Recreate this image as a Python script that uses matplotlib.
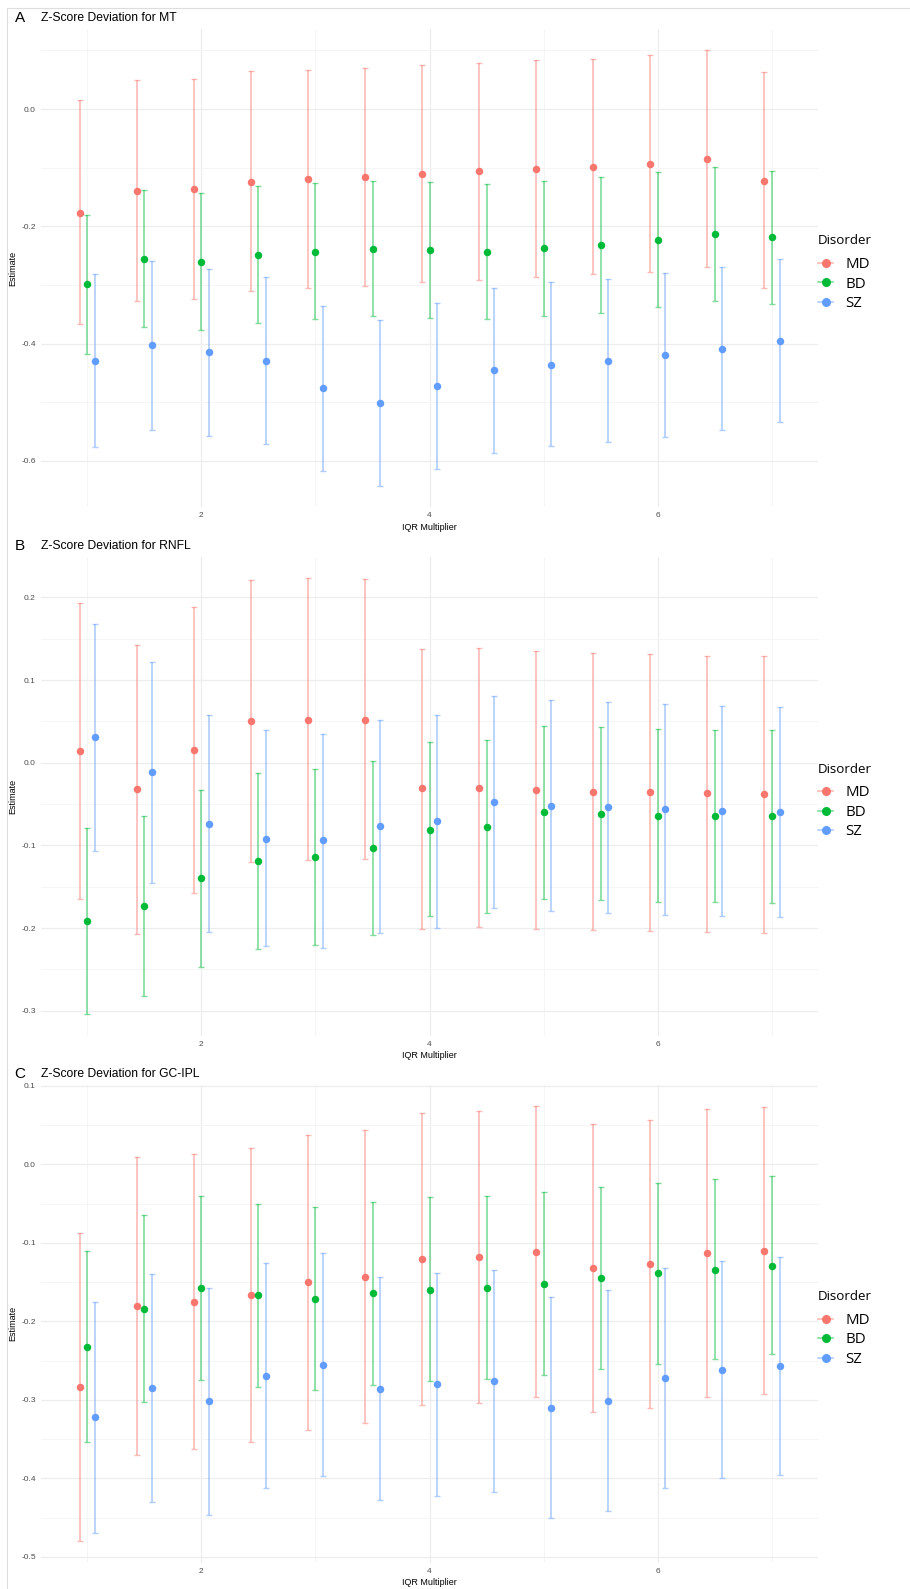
import numpy as np
import matplotlib.pyplot as plt
from matplotlib.lines import Line2D
from matplotlib.ticker import MultipleLocator

plt.rcParams['font.family'] = ['Liberation Sans', 'DejaVu Sans']

# IQR multiplier values on the x axis
iqr = np.array([1.0, 1.5, 2.0, 2.5, 3.0, 3.5, 4.0, 4.5, 5.0, 5.5, 6.0, 6.5, 7.0])
disorders = ['MD', 'BD', 'SZ']

# Panel A: MT (estimate, lower, upper)
mt_md = [-0.177, -0.139, -0.137, -0.124, -0.119, -0.116, -0.110, -0.106, -0.102, -0.099, -0.093, -0.085, -0.122]
mt_md_hi = [0.015, 0.049, 0.051, 0.064, 0.066, 0.070, 0.075, 0.078, 0.083, 0.086, 0.092, 0.100, 0.063]
mt_md_lo = [-0.367, -0.328, -0.324, -0.310, -0.305, -0.301, -0.295, -0.291, -0.286, -0.282, -0.277, -0.269, -0.305]
mt_bd = [-0.298, -0.255, -0.261, -0.248, -0.243, -0.238, -0.240, -0.243, -0.237, -0.231, -0.223, -0.213, -0.219]
mt_bd_hi = [-0.180, -0.138, -0.144, -0.131, -0.126, -0.123, -0.125, -0.127, -0.122, -0.116, -0.108, -0.098, -0.105]
mt_bd_lo = [-0.418, -0.372, -0.377, -0.364, -0.358, -0.353, -0.356, -0.358, -0.352, -0.347, -0.338, -0.328, -0.333]
mt_sz = [-0.430, -0.403, -0.415, -0.429, -0.476, -0.501, -0.472, -0.445, -0.436, -0.429, -0.419, -0.409, -0.395]
mt_sz_hi = [-0.282, -0.259, -0.273, -0.287, -0.335, -0.360, -0.331, -0.305, -0.295, -0.289, -0.280, -0.269, -0.255]
mt_sz_lo = [-0.576, -0.548, -0.557, -0.571, -0.617, -0.642, -0.613, -0.586, -0.575, -0.568, -0.559, -0.548, -0.533]

# Panel B: RNFL
rnfl_md = [0.014, -0.032, 0.015, 0.050, 0.052, 0.052, -0.031, -0.030, -0.033, -0.035, -0.036, -0.037, -0.038]
rnfl_md_hi = [0.193, 0.143, 0.188, 0.221, 0.223, 0.222, 0.138, 0.139, 0.135, 0.133, 0.132, 0.129, 0.129]
rnfl_md_lo = [-0.165, -0.207, -0.158, -0.120, -0.118, -0.117, -0.201, -0.199, -0.201, -0.202, -0.204, -0.205, -0.206]
rnfl_bd = [-0.191, -0.173, -0.140, -0.119, -0.114, -0.103, -0.081, -0.078, -0.060, -0.062, -0.064, -0.064, -0.065]
rnfl_bd_hi = [-0.079, -0.064, -0.033, -0.013, -0.008, 0.002, 0.025, 0.027, 0.045, 0.043, 0.041, 0.040, 0.039]
rnfl_bd_lo = [-0.304, -0.282, -0.247, -0.225, -0.220, -0.209, -0.186, -0.182, -0.165, -0.166, -0.168, -0.169, -0.170]
rnfl_sz = [0.031, -0.011, -0.074, -0.092, -0.094, -0.077, -0.071, -0.047, -0.052, -0.054, -0.056, -0.058, -0.060]
rnfl_sz_hi = [0.168, 0.122, 0.058, 0.039, 0.035, 0.052, 0.058, 0.081, 0.076, 0.073, 0.071, 0.069, 0.067]
rnfl_sz_lo = [-0.107, -0.145, -0.205, -0.222, -0.224, -0.206, -0.200, -0.176, -0.179, -0.182, -0.184, -0.185, -0.187]

# Panel C: GC-IPL
gc_md = [-0.283, -0.181, -0.175, -0.167, -0.150, -0.143, -0.121, -0.118, -0.112, -0.132, -0.127, -0.113, -0.110]
gc_md_hi = [-0.087, 0.009, 0.013, 0.021, 0.037, 0.044, 0.066, 0.068, 0.074, 0.052, 0.057, 0.071, 0.073]
gc_md_lo = [-0.480, -0.370, -0.363, -0.354, -0.338, -0.330, -0.307, -0.304, -0.296, -0.316, -0.310, -0.296, -0.293]
gc_bd = [-0.232, -0.184, -0.157, -0.167, -0.171, -0.164, -0.160, -0.157, -0.152, -0.145, -0.139, -0.134, -0.129]
gc_bd_hi = [-0.110, -0.065, -0.040, -0.050, -0.054, -0.048, -0.042, -0.040, -0.035, -0.029, -0.024, -0.019, -0.015]
gc_bd_lo = [-0.354, -0.303, -0.275, -0.284, -0.288, -0.281, -0.276, -0.273, -0.268, -0.260, -0.254, -0.248, -0.242]
gc_sz = [-0.322, -0.285, -0.302, -0.269, -0.255, -0.286, -0.280, -0.276, -0.310, -0.301, -0.272, -0.262, -0.257]
gc_sz_hi = [-0.175, -0.140, -0.158, -0.126, -0.113, -0.144, -0.139, -0.135, -0.169, -0.160, -0.132, -0.123, -0.118]
gc_sz_lo = [-0.469, -0.430, -0.446, -0.412, -0.397, -0.427, -0.422, -0.417, -0.450, -0.441, -0.412, -0.400, -0.395]

panels = [
    ('A', 'Z-Score Deviation for MT',
     [(mt_md, mt_md_lo, mt_md_hi), (mt_bd, mt_bd_lo, mt_bd_hi), (mt_sz, mt_sz_lo, mt_sz_hi)], 0.2),
    ('B', 'Z-Score Deviation for RNFL',
     [(rnfl_md, rnfl_md_lo, rnfl_md_hi), (rnfl_bd, rnfl_bd_lo, rnfl_bd_hi), (rnfl_sz, rnfl_sz_lo, rnfl_sz_hi)], 0.1),
    ('C', 'Z-Score Deviation for GC-IPL',
     [(gc_md, gc_md_lo, gc_md_hi), (gc_bd, gc_bd_lo, gc_bd_hi), (gc_sz, gc_sz_lo, gc_sz_hi)], 0.1),
]

colors = ['#F8766D', '#00BA38', '#619CFF']
offsets = [-0.0667, 0.0, 0.0667]

W, H = 910, 1589
fig = plt.figure(figsize=(W / 100, H / 100), dpi=100)

# panel boxes in pixels: (top, bottom)
boxes = [(28.6, 507.4), (556.6, 1035.8), (1084.5, 1563.0)]
left_px, right_px = 40.7, 818.0

for (letter, title, groups, step), (top, bot) in zip(panels, boxes):
    ax = fig.add_axes([left_px / W, 1 - bot / H, (right_px - left_px) / W, (bot - top) / H])
    for (est, lo, hi), col, off in zip(groups, colors, offsets):
        est, lo, hi = np.array(est), np.array(lo), np.array(hi)
        ax.errorbar(iqr + off, est, yerr=[est - lo, hi - est], fmt='none',
                    ecolor=col, alpha=0.5, elinewidth=1.2, capsize=2.0, capthick=1.0, zorder=2)
        ax.plot(iqr + off, est, 'o', color=col, markersize=5.4, markeredgewidth=0, zorder=3)

    all_lo = min(min(g[1]) for g in groups)
    all_hi = max(max(g[2]) for g in groups)
    pad = (all_hi - all_lo) * 0.05
    ax.set_ylim(all_lo - pad, all_hi + pad)
    ax.set_xlim(0.592, 7.404)

    ax.xaxis.set_major_locator(MultipleLocator(2))
    ax.xaxis.set_minor_locator(MultipleLocator(1))
    ax.yaxis.set_major_locator(MultipleLocator(step))
    ax.yaxis.set_minor_locator(MultipleLocator(step / 2))
    ax.yaxis.set_major_formatter(lambda v, p: f'{v:.1f}'.replace('-0.0', '0.0'))
    ax.grid(which='major', color='#EDEDED', linewidth=0.9, zorder=0)
    ax.grid(which='minor', color='#F4F4F4', linewidth=0.6, zorder=0)
    ax.set_axisbelow(True)
    for s in ax.spines.values():
        s.set_visible(False)
    ax.tick_params(which='both', length=0, labelsize=6, labelcolor='#4D4D4D', pad=3.5)

    ax.set_xlabel('IQR Multiplier', fontsize=6.5, labelpad=2.5)
    ax.set_ylabel('Estimate', fontsize=6.5, labelpad=3)

    fig.text(14.7 / W, 1 - (top - 10.3) / H, letter, fontsize=11, va='center', ha='left')
    fig.text(left_px / W, 1 - (top - 10.3) / H, title, fontsize=8.7, va='center', ha='left')

    handles = [(Line2D([0], [0], color=c, lw=1.2, alpha=0.5),
                Line2D([0], [0], color=c, marker='o', markersize=6.5, lw=0,
                       markeredgewidth=0)) for c in colors]
    leg = ax.legend(handles, disorders, title='Disorder', loc='center left',
                    bbox_to_anchor=(1.0, 0.49), frameon=False, borderaxespad=0.0,
                    borderpad=0.0, handlelength=1.0, handletextpad=0.85,
                    labelspacing=0.3, alignment='left',
                    prop={'family': 'Open Sans', 'size': 10.8},
                    title_fontproperties={'family': 'Open Sans', 'size': 9.6})
    leg._legend_box.sep = 7

# light frame lines from the original screenshot
fig.add_artist(Line2D([7 / W, 7 / W], [0, 1 - 8 / H], color='#DDDDDD', lw=0.8))
fig.add_artist(Line2D([7 / W, 1], [1 - 8 / H, 1 - 8 / H], color='#DDDDDD', lw=0.8))

fig.savefig('out.png', dpi=100)
